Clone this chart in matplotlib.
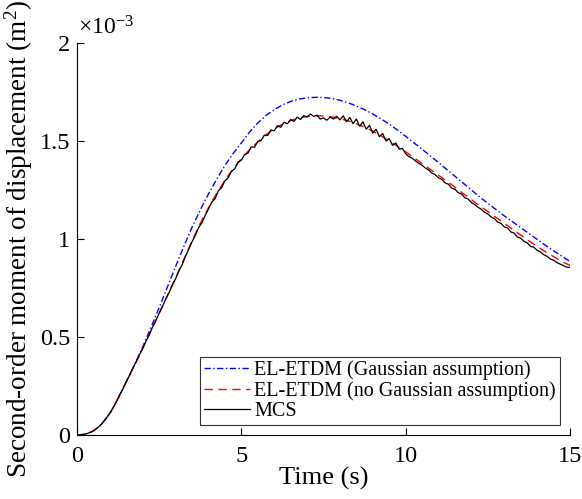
import numpy as np
import matplotlib.pyplot as plt

plt.rcParams['font.family'] = 'Liberation Serif'
plt.rcParams['mathtext.fontset'] = 'custom'
plt.rcParams['mathtext.rm'] = 'Liberation Serif'
plt.rcParams['mathtext.it'] = 'Liberation Serif:italic'

# smooth curves, values in 1e-3 m^2, every 0.25 s
t_model = np.arange(0, 15.001, 0.25)
gauss = [0.0, 0.004, 0.02, 0.055, 0.11, 0.185, 0.27, 0.358, 0.45, 0.548,
         0.65, 0.755, 0.86, 0.962, 1.06, 1.148, 1.23, 1.305, 1.375, 1.436,
         1.49, 1.545, 1.592, 1.63, 1.66, 1.684, 1.702, 1.714, 1.72, 1.723,
         1.722, 1.717, 1.708, 1.695, 1.679, 1.66, 1.638, 1.613, 1.586, 1.556,
         1.524, 1.491, 1.458, 1.424, 1.39, 1.355, 1.32, 1.285, 1.25, 1.215,
         1.182, 1.15, 1.118, 1.088, 1.058, 1.028, 0.998, 0.968, 0.94, 0.912,
         0.885]
no_gauss = [0.0, 0.004, 0.021, 0.056, 0.11, 0.186, 0.272, 0.357, 0.442, 0.532,
            0.622, 0.711, 0.80, 0.895, 0.99, 1.08, 1.16, 1.233, 1.30, 1.358,
            1.41, 1.455, 1.495, 1.532, 1.562, 1.586, 1.604, 1.617, 1.625, 1.629,
            1.628, 1.623, 1.614, 1.603, 1.588, 1.57, 1.55, 1.526, 1.50, 1.473,
            1.445, 1.415, 1.385, 1.355, 1.325, 1.295, 1.265, 1.232, 1.20, 1.17,
            1.14, 1.11, 1.08, 1.05, 1.02, 0.99, 0.962, 0.935, 0.91, 0.886,
            0.865]

# Monte Carlo simulation, every 0.1 s
t_mcs = np.arange(0, 15.001, 0.1)
mcs = [0.000, 0.001, 0.003, 0.007, 0.013, 0.022, 0.033, 0.048, 0.066, 0.088,
       0.111, 0.139, 0.171, 0.206, 0.237, 0.273, 0.305, 0.341, 0.373, 0.409,
       0.441, 0.479, 0.512, 0.551, 0.584, 0.621, 0.655, 0.694, 0.726, 0.766,
       0.797, 0.838, 0.869, 0.912, 0.948, 0.986, 1.018, 1.058, 1.082, 1.121,
       1.152, 1.188, 1.205, 1.246, 1.262, 1.297, 1.312, 1.345, 1.358, 1.392,
       1.402, 1.431, 1.438, 1.470, 1.468, 1.498, 1.502, 1.530, 1.528, 1.556,
       1.552, 1.578, 1.570, 1.596, 1.588, 1.610, 1.600, 1.622, 1.610, 1.630,
       1.622, 1.638, 1.626, 1.632, 1.612, 1.618, 1.606, 1.622, 1.612, 1.626,
       1.608, 1.628, 1.598, 1.620, 1.588, 1.612, 1.575, 1.598, 1.560, 1.580,
       1.540, 1.560, 1.522, 1.538, 1.500, 1.512, 1.478, 1.490, 1.458, 1.462,
       1.435, 1.420, 1.412, 1.398, 1.386, 1.376, 1.362, 1.352, 1.336, 1.328,
       1.312, 1.304, 1.286, 1.280, 1.260, 1.254, 1.236, 1.230, 1.210, 1.204,
       1.186, 1.176, 1.162, 1.152, 1.136, 1.128, 1.112, 1.104, 1.086, 1.080,
       1.062, 1.056, 1.036, 1.030, 1.010, 1.004, 0.988, 0.980, 0.962, 0.958,
       0.942, 0.934, 0.920, 0.912, 0.898, 0.892, 0.880, 0.872, 0.864, 0.856,
       0.855]

fig = plt.figure(figsize=(5.82, 4.99), dpi=100)
ax = fig.add_axes([0.1323, 0.1283, 0.8471, 0.7855])

ax.plot(t_model, gauss, color='b', ls=(0, (4.5, 1.8, 1, 1.8)), lw=1.0,
        label='EL-ETDM (Gaussian assumption)')
ax.plot(t_model, no_gauss, color='r', ls=(0, (6, 4)), lw=1.0,
        label='EL-ETDM (no Gaussian assumption)')
ax.plot(t_mcs, mcs, 'k-', lw=0.9, label='MCS')

ax.set_xlim(0, 15)
ax.set_ylim(0, 2)
ax.set_xticks([0, 5, 10, 15])
ax.set_yticks([0, 0.5, 1, 1.5, 2])
ax.set_yticklabels(['0', '0.5', '1', '1.5', '2'])
ax.spines['top'].set_visible(False)
ax.spines['right'].set_visible(False)
ax.tick_params(direction='in', length=5, labelsize=17.5, width=0.8)
ax.tick_params(axis='x', pad=8)
ax.tick_params(axis='y', pad=5)
ax.set_xlabel('Time (s)', fontsize=19, labelpad=0)
ax.set_ylabel('Second-order moment of displacement (m$^2$)', fontsize=19.5, labelpad=3)
ax.text(0.003, 1.01, r'$\times10^{-3}$', transform=ax.transAxes, fontsize=17,
        ha='left', va='bottom')

leg = ax.legend(loc='lower right', bbox_to_anchor=(0.98, 0.025), borderaxespad=0,
                fontsize=14.5, handlelength=2.3, handletextpad=0.2,
                labelspacing=0.05, borderpad=0.2, fancybox=False, framealpha=1)
leg.get_frame().set_edgecolor('#333333')
leg.get_frame().set_linewidth(0.8)

plt.savefig('out.png', dpi=100)
plt.close()
